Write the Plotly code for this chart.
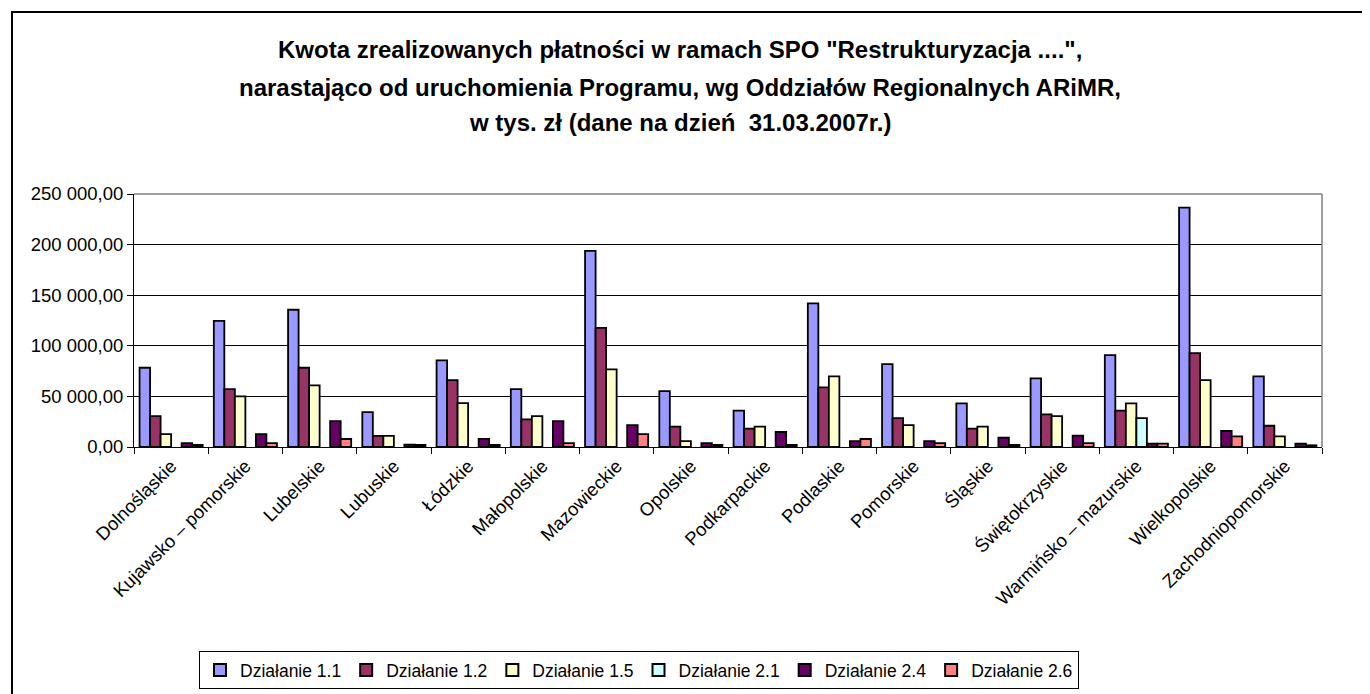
import plotly.graph_objects as go

categories = ["Dolnośląskie", "Kujawsko – pomorskie", "Lubelskie", "Lubuskie", "Łódzkie",
              "Małopolskie", "Mazowieckie", "Opolskie", "Podkarpackie", "Podlaskie",
              "Pomorskie", "Śląskie", "Świętokrzyskie", "Warmińsko – mazurskie",
              "Wielkopolskie", "Zachodniopomorskie"]

dz_1_1 = [78300, 124700, 135600, 34500, 85500, 57200, 193800, 55300, 35900, 142000,
          81900, 43100, 67800, 90800, 236500, 69700]
dz_1_2 = [30600, 57200, 78300, 10900, 66100, 27300, 117800, 20100, 18200, 58900,
          28600, 18200, 32300, 35900, 92700, 21000]
dz_1_5 = [12800, 50000, 60900, 10900, 43400, 30600, 76700, 5900, 20100, 69700,
          21700, 20100, 30600, 43100, 66100, 10500]
dz_2_1 = [None, None, None, None, None, None, None, None, None, None,
          None, None, None, 28600, None, None]
dz_2_4 = [3900, 12800, 25600, 2400, 7900, 25600, 21700, 3900, 14800, 5900,
          5900, 9300, 11200, 3300, 15800, 3300]
dz_2_6 = [2000, 3900, 7900, 2000, 2000, 3900, 12800, 2000, 2000, 7900,
          3900, 2000, 3900, 3300, 10500, 1700]

series_names = ["Działanie 1.1", "Działanie 1.2", "Działanie 1.5",
                "Działanie 2.1", "Działanie 2.4", "Działanie 2.6"]
series_values = [dz_1_1, dz_1_2, dz_1_5, dz_2_1, dz_2_4, dz_2_6]
series_colors = ["#9999FF", "#993366", "#FFFFCC", "#CCFFFF", "#660066", "#FF8080"]

y_ticks = [0, 50000, 100000, 150000, 200000, 250000]


def fmt(v):
    s = f"{v:,.2f}"
    return s.replace(",", " ").replace(".", ",")


FONT = "Liberation Sans, Arial, sans-serif"

fig = go.Figure()
for name, vals, col in zip(series_names, series_values, series_colors):
    fig.add_trace(go.Bar(
        x=categories, y=vals, name=name,
        marker=dict(color=col, line=dict(color="black", width=1.8)),
    ))

# plot area geometry (pixels)
W, H = 1370, 694
L, R, T, B = 126, 1314, 186, 439
pw, ph = R - L, B - T


def px(xp):
    return (xp - L) / pw


def py(yp):
    return (B - yp) / ph


fig.update_layout(
    width=W, height=H,
    margin=dict(l=L, r=W - R, t=T, b=H - B, autoexpand=False),
    paper_bgcolor="white", plot_bgcolor="white",
    barmode="group", bargap=0.15, bargroupgap=0,
    font=dict(family=FONT, color="black", size=16),
    showlegend=True,
    legend=dict(
        orientation="h", x=px(191), y=py(643), xanchor="left", yanchor="top",
        bordercolor="black", borderwidth=1, bgcolor="white",
        font=dict(family=FONT, size=17.5, color="black"),
        traceorder="normal", itemsizing="constant",
    ),
    xaxis=dict(
        type="category", tickson="boundaries", ticks="outside", ticklen=6,
        tickcolor="black", showline=True, linecolor="black", linewidth=1,
        tickangle=-45, tickfont=dict(family=FONT, size=18.5, color="black"),
        showgrid=False,
    ),
    yaxis=dict(
        range=[0, 250000], tickvals=y_ticks, ticktext=[fmt(v) for v in y_ticks],
        ticks="outside", ticklen=6, tickcolor="black",
        showline=True, linecolor="black", linewidth=1,
        showgrid=True, gridcolor="black", gridwidth=1,
        tickfont=dict(family=FONT, size=18.5, color="black"),
        zeroline=False,
    ),
)

# plot area border (top/right in grey)
fig.add_shape(type="line", xref="paper", yref="paper", x0=0, x1=1, y0=1, y1=1,
              line=dict(color="#808080", width=1.5))
fig.add_shape(type="line", xref="paper", yref="paper", x0=1, x1=1, y0=0, y1=1,
              line=dict(color="#808080", width=1.5))
# outer chart frame
fig.add_shape(type="rect", xref="paper", yref="paper",
              x0=px(4), x1=px(1362), y0=py(4), y1=py(688),
              line=dict(color="black", width=2), fillcolor="rgba(0,0,0,0)", layer="below")

title_lines = ['Kwota zrealizowanych płatności w ramach SPO "Restrukturyzacja ....",',
               'narastająco od uruchomienia Programu, wg Oddziałów Regionalnych ARiMR,',
               'w tys. zł (dane na dzień  31.03.2007r.)']
title_y = [41, 79, 114]
for line, yy in zip(title_lines, title_y):
    fig.add_annotation(
        text="<b>" + line.replace("  ", "&nbsp; ") + "</b>",
        xref="paper", yref="paper", x=px(672), y=py(yy),
        xanchor="center", yanchor="middle", showarrow=False,
        font=dict(family=FONT, size=24, color="black"),
    )

fig.write_html("out.html")
